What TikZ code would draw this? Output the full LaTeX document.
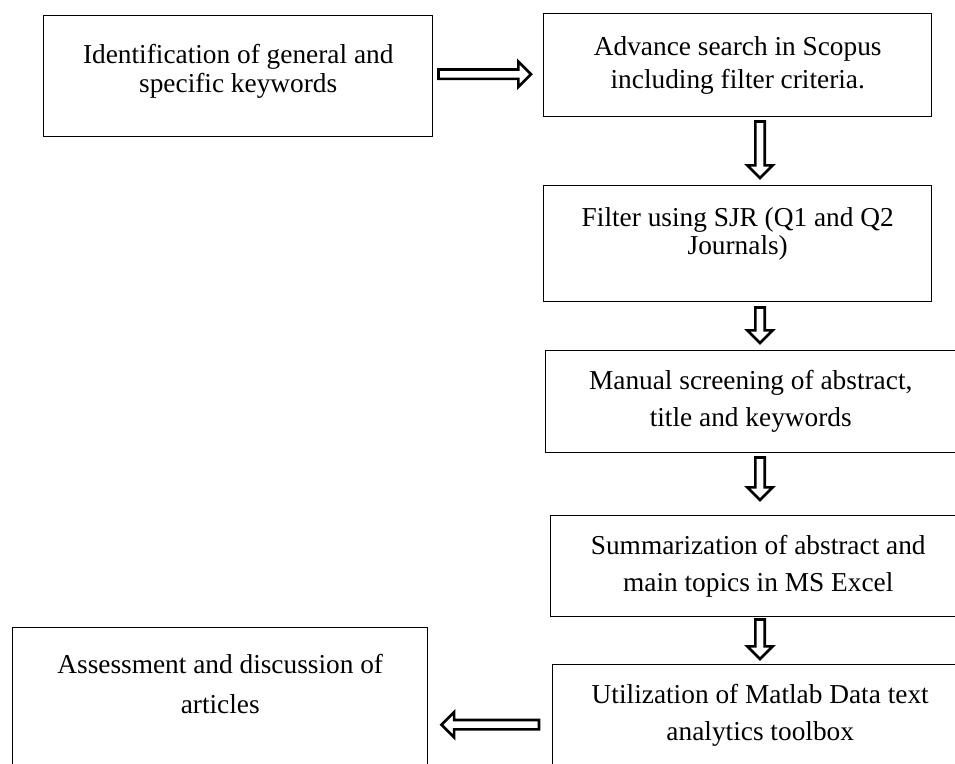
\documentclass[tikz,border=0pt]{standalone}
\usepackage{fontspec}
\setmainfont{Liberation Serif}
\usepackage{tikz}
\usetikzlibrary{calc}
\tikzset{
step_box/.style={rectangle, draw, line width=1.1pt, anchor=north west, align=center, inner sep=0pt, font=\fontsize{20.5}{#1}\selectfont},
step_box/.default=27.75,
block_arrow/.style={draw, fill=white, line width=2pt, line join=miter, to path={
  let \p1=(\tikztostart), \p2=(\tikztotarget), \p3=($(\tikztotarget)!9.5pt!(\tikztostart)$), \n1={atan2(\y2-\y1,\x2-\x1)} in
  ($(\p1)+({\n1+90}:3.5pt)$) -- ($(\p3)+({\n1+90}:3.5pt)$) -- ($(\p3)+({\n1+90}:9.5pt)$) -- (\p2)
  -- ($(\p3)+({\n1-90}:9.5pt)$) -- ($(\p3)+({\n1-90}:3.5pt)$) -- ($(\p1)+({\n1-90}:3.5pt)$) -- cycle}}
}

\begin{document}
\begin{tikzpicture}[x=0.75pt, y=-0.75pt]
    \useasboundingbox (0,0) rectangle (955,763);
    \coordinate (spine) at (760,0);
    % steps
    \node[step_box=21.75, minimum width=291.75pt, minimum height=90.75pt, text depth=11.5pt] (box_1) at (43,15) {Identification of general and\\specific keywords};
    \node[step_box=24.75, minimum width=291pt, minimum height=77.25pt] (box_2) at (543,13) {Advance search in Scopus\\including filter criteria.};
    \node[step_box=21, minimum width=291pt, minimum height=87pt, text depth=19pt] (box_3) at (543,185) {Filter using SJR (Q1 and Q2\\Journals)};
    \node[step_box, minimum width=307.5pt, minimum height=76.5pt] (box_4) at (545,350) {Manual screening of abstract,\\title and keywords};
    \node[step_box, minimum width=311.25pt, minimum height=75.75pt] (box_5) at (550,515) {Summarization of abstract and\\main topics in MS Excel};
    \node[step_box, minimum width=311.25pt, minimum height=76.5pt] (box_6) at (552,664) {Utilization of Matlab Data text\\analytics toolbox};
    \node[step_box=30, minimum width=311.25pt, minimum height=120pt, text depth=36pt] (box_7) at (12,627) {Assessment and discussion of\\articles};
    % arrows
    \draw[block_arrow] ($(box_1.east)+(5,-2)$) to ($(box_2.west |- box_1.east)+(-12,-2)$);
    \draw[block_arrow] ($(box_2.south -| spine)+(0,4)$) to ($(box_3.north -| spine)+(0,-7)$);
    \draw[block_arrow] ($(box_3.south -| spine)+(0,5)$) to ($(box_4.north -| spine)+(0,-7)$);
    \draw[block_arrow] ($(box_4.south -| spine)+(0,4)$) to ($(box_5.north -| spine)+(0,-15)$);
    \draw[block_arrow] ($(box_5.south -| spine)+(0,2)$) to ($(box_6.north -| spine)+(0,-5)$);
    \draw[block_arrow] ($(box_6.west)+(-13,9)$) to ($(box_7.east |- box_6.west)+(13,9)$);
\end{tikzpicture}
\end{document}
